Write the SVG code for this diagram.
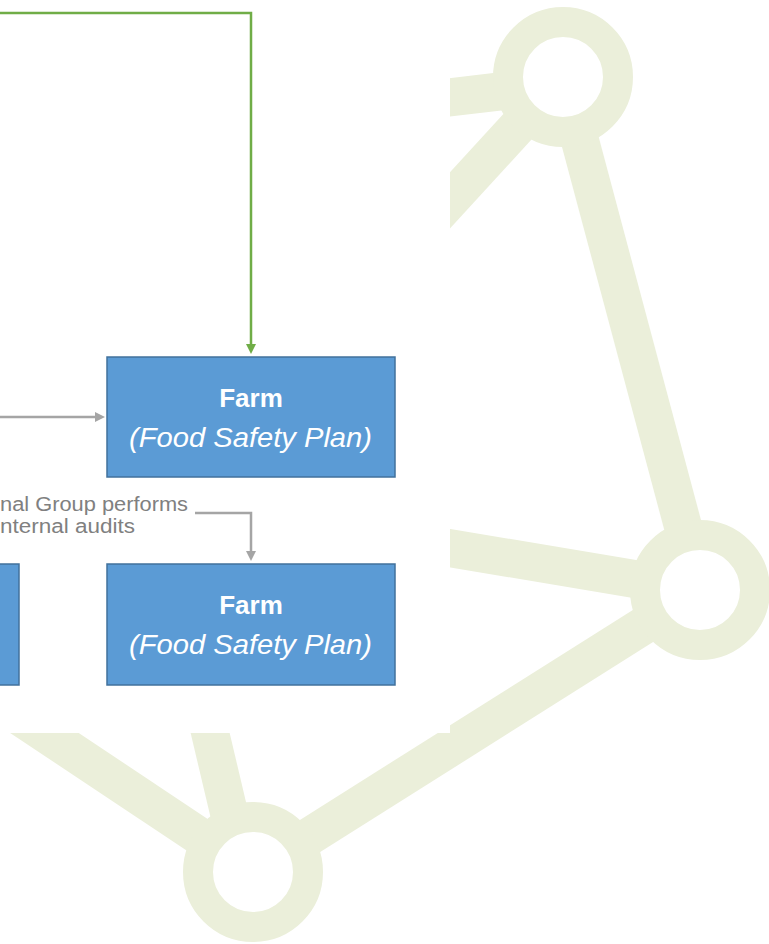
<svg xmlns="http://www.w3.org/2000/svg" width="769" height="944" viewBox="0 0 769 944">
<defs>
<style>
.net{stroke:#EBEFDA;stroke-width:38;fill:none}
.ring{stroke:#EBEFDA;stroke-width:30;fill:#FFFFFF}
.box{fill:#5B9BD5;stroke:#41719C;stroke-width:1.5}
.t1{font-family:"Liberation Sans",Arial,sans-serif;font-weight:bold;font-size:26px;fill:#FFFFFF;text-anchor:middle}
.t2{font-family:"Liberation Sans",Arial,sans-serif;font-style:italic;font-size:28px;fill:#FFFFFF}
.lbl{font-family:"Liberation Sans",Arial,sans-serif;font-size:20px;fill:#808080}
.g{stroke:#70AD47;stroke-width:2.5;fill:none}
.gr{stroke:#A5A5A5;stroke-width:2.5;fill:none}
</style>
<marker id="ag" markerWidth="10" markerHeight="10" refX="5" refY="5" orient="auto" markerUnits="userSpaceOnUse">
<path d="M0,0 L10,5 L0,10 z" fill="#70AD47"/>
</marker>
<marker id="agr" markerWidth="10" markerHeight="10" refX="5" refY="5" orient="auto" markerUnits="userSpaceOnUse">
<path d="M0,0 L10,5 L0,10 z" fill="#A5A5A5"/>
</marker>
</defs>
<rect width="769" height="944" fill="#FFFFFF"/>
<g id="network">
<line class="net" x1="563" y1="84" x2="300" y2="115"/>
<line class="net" x1="563" y1="77" x2="300" y2="364"/>
<line class="net" x1="563" y1="77" x2="700" y2="590"/>
<line class="net" x1="700" y1="590" x2="300" y2="523"/>
<line class="net" x1="700" y1="590" x2="253" y2="872"/>
<line class="net" x1="253" y1="872" x2="-50" y2="670"/>
<line class="net" x1="243" y1="872" x2="200" y2="690"/>
<circle class="ring" cx="563" cy="77" r="55"/>
<circle class="ring" cx="700" cy="590" r="55"/>
<circle class="ring" cx="253" cy="872" r="55"/>
</g>
<rect id="panel" x="0" y="0" width="450" height="733" fill="#FFFFFF"/>
<g id="connectors">
<path class="g" d="M0,13 H251 V349" marker-end="url(#ag)"/>
<path class="gr" d="M0,417 H100" marker-end="url(#agr)"/>
<path class="gr" d="M195,513 H251 V556" marker-end="url(#agr)"/>
</g>
<g id="label">
<text class="lbl" x="0" y="511" textLength="188" lengthAdjust="spacingAndGlyphs">nal Group performs</text>
<text class="lbl" x="0" y="533" textLength="135" lengthAdjust="spacingAndGlyphs">nternal audits</text>
</g>
<g id="farm1">
<rect class="box" x="107" y="357" width="288" height="120"/>
<text class="t1" x="251" y="407">Farm</text>
<text class="t2" x="129" y="447" textLength="243" lengthAdjust="spacingAndGlyphs">(Food Safety Plan)</text>
</g>
<g id="farm2">
<rect class="box" x="107" y="564" width="288" height="121"/>
<text class="t1" x="251" y="614">Farm</text>
<text class="t2" x="129" y="654" textLength="243" lengthAdjust="spacingAndGlyphs">(Food Safety Plan)</text>
</g>
<g id="leftbox">
<rect class="box" x="-10" y="564" width="29" height="121"/>
</g>
</svg>
